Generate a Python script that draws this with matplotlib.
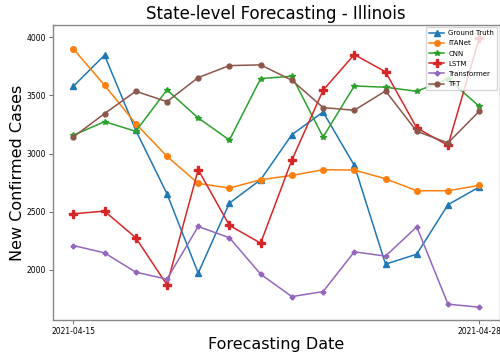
import matplotlib
matplotlib.use("Agg")
import matplotlib.pyplot as plt
import pandas as pd

dates = pd.date_range("2021-04-15", "2021-04-28", freq="D")
tick_labels = ["2021-04-15", "2021-04-28"]

ground_truth = [3578, 3845, 3200, 2654, 1972, 2574, 2775, 3162, 3357, 2898, 2049, 2135, 2560, 2712]
itanet = [3900, 3587, 3257, 2976, 2743, 2703, 2775, 2812, 2861, 2858, 2783, 2680, 2680, 2726]
cnn = [3157, 3274, 3191, 3547, 3306, 3116, 3644, 3665, 3142, 3581, 3570, 3535, 3642, 3406]
lstm = [2482, 2505, 2276, 1871, 2861, 2382, 2230, 2944, 3544, 3851, 3702, 3220, 3070, 3990]
transformer = [2209, 2146, 1980, 1920, 2373, 2276, 1963, 1770, 1813, 2155, 2118, 2370, 1705, 1679]
tft = [3142, 3343, 3535, 3446, 3653, 3756, 3762, 3630, 3395, 3372, 3538, 3191, 3091, 3363]

series = [
    ("Ground Truth", ground_truth, "#1f77b4", "^", 4),
    ("ITANet", itanet, "#ff7f0e", "o", 4),
    ("CNN", cnn, "#2ca02c", "*", 4),
    ("LSTM", lstm, "#d62728", "P", 5.5),
    ("Transformer", transformer, "#9467bd", "P", 3.2),
    ("TFT", tft, "#8c564b", "o", 3.5),
]

fig = plt.figure(figsize=(5.0, 3.57), dpi=100)
ax = fig.add_axes([0.106, 0.104, 0.893, 0.826])

for name, vals, color, marker, ms in series:
    ax.plot(dates, vals, color=color, marker=marker, markersize=ms,
            linewidth=1.1, label=name)

ax.set_xticks([dates[0], dates[-1]])
ax.set_xticklabels(tick_labels)
ax.set_yticks([2000, 2500, 3000, 3500, 4000])
ax.tick_params(labelsize=5.5, length=3, width=0.6, color="#555555", pad=2)
ax.set_ylim(1570, 4105)

for sp in ax.spines.values():
    sp.set_color("#888888")
    sp.set_linewidth(1.0)

ax.set_title("State-level Forecasting - Illinois", fontsize=12, pad=4)
ax.set_xlabel("Forecasting Date", fontsize=11.5, labelpad=1)
ax.set_ylabel("New Confirmed Cases", fontsize=11.5, labelpad=1)

ax.legend(loc="upper right", fontsize=5, handlelength=2.2, borderpad=0.45,
          labelspacing=0.6, handletextpad=0.6, borderaxespad=0.3)

fig.savefig("out.png", dpi=100)
